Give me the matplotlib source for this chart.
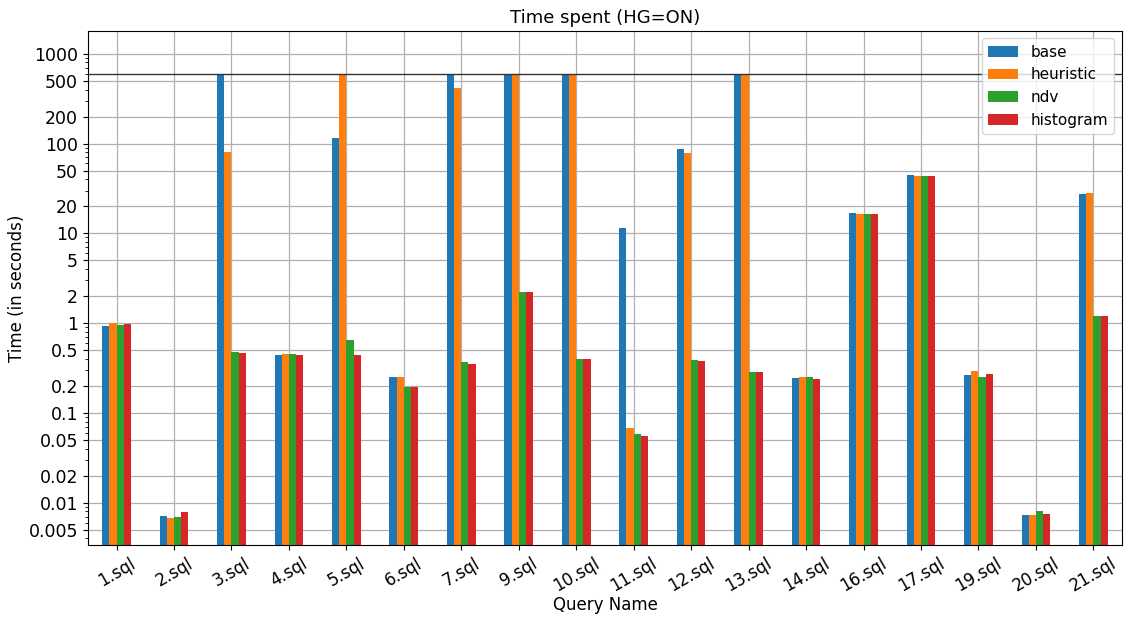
import numpy as np
import matplotlib; matplotlib.use("Agg")
import matplotlib.pyplot as plt
from matplotlib.ticker import FixedLocator, FixedFormatter

TIMEOUT = 600

queries = ["1.sql", "2.sql", "3.sql", "4.sql", "5.sql", "6.sql", "7.sql", "9.sql", "10.sql",
           "11.sql", "12.sql", "13.sql", "14.sql", "16.sql", "17.sql", "19.sql", "20.sql", "21.sql"]
base      = [0.935, 0.0072, 600, 0.445, 116, 0.253, 600, 600, 600, 11.5, 87.5, 600, 0.246, 16.9, 44.9, 0.266, 0.00735, 27.6]
heuristic = [1.0, 0.0068, 81, 0.455, 600, 0.253, 418, 600, 600, 0.068, 79, 600, 0.253, 16.5, 43.8, 0.295, 0.00735, 28.3]
ndv       = [0.96, 0.0070, 0.48, 0.455, 0.65, 0.196, 0.37, 2.24, 0.40, 0.0586, 0.39, 0.288, 0.253, 16.5, 43.8, 0.253, 0.0081, 1.21]
histogram = [0.99, 0.0079, 0.47, 0.445, 0.445, 0.196, 0.353, 2.24, 0.40, 0.0557, 0.381, 0.288, 0.24, 16.5, 43.8, 0.273, 0.00755, 1.21]

series = {"base": base, "heuristic": heuristic, "ndv": ndv, "histogram": histogram}
colors = ["#1f77b4", "#ff7f0e", "#2ca02c", "#d62728"]
yticks = [0.005, 0.01, 0.02, 0.05, 0.1, 0.2, 0.5, 1, 2, 5, 10, 20, 50, 100, 200, 500, 1000]

fig = plt.figure(figsize=(11.26, 6.17), dpi=100)
ax = fig.add_axes([0.078, 0.117, 0.9185, 0.833])

x = np.arange(len(queries))
w = 0.125
for i, (name, vals) in enumerate(series.items()):
    ax.bar(x + (i - 1.5) * w, vals, width=w, color=colors[i], label=name, zorder=2)

# timeout cap
ax.axhline(TIMEOUT, color="#333333", lw=1, zorder=3)

ax.set_yscale("log")
ax.set_ylim(0.0034, 1800)
ax.set_xlim(-0.5, len(queries) - 0.5)
ax.yaxis.set_major_locator(FixedLocator(yticks))
ax.yaxis.set_major_formatter(FixedFormatter([f"{t:g}" for t in yticks]))
ax.tick_params(axis="y", labelsize=12.5)
ax.set_xticks(x)
ax.set_xticklabels(queries, rotation=30, fontsize=12)
ax.grid(True, which="major", color="#b0b0b0", lw=0.9, zorder=0)
ax.set_axisbelow(True)

ax.set_title("Time spent (HG=ON)", fontsize=13)
ax.set_xlabel("Query Name", fontsize=12)
ax.set_ylabel("Time (in seconds)", fontsize=12)
ax.xaxis.set_label_coords(0.5, -0.1)
ax.yaxis.set_label_coords(-0.06, 0.5)
ax.legend(loc="upper right", fontsize=11)

fig.savefig("out.png", dpi=100)
